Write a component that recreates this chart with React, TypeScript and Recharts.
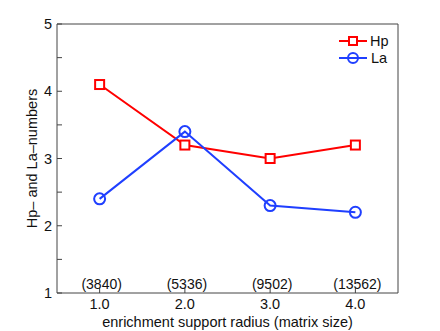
import React from 'react';
import { ComposedChart, Line, Scatter, XAxis, YAxis } from 'recharts';

const radius = [1.0, 2.0, 3.0, 4.0];
const hpValues = [4.1, 3.2, 3.0, 3.2];
const laValues = [2.4, 3.4, 2.3, 2.2];
const matrixSizes = ['(3840)', '(5336)', '(9502)', '(13562)'];
const sizeLabelLevel = 1.14;
const xTicks = [1, 2, 3, 4];
const yTicks = [1, 1.5, 2, 2.5, 3, 3.5, 4, 4.5, 5];

const data = radius.map((r, i) => ({ r, hp: hpValues[i], la: laValues[i] }));
const sizeData = radius.map((r, i) => ({ r, y: sizeLabelLevel, label: matrixSizes[i] }));

const FONT = '"Liberation Sans", Arial, Helvetica, sans-serif';
const AXIS = '#444';
const RED = '#ff0000';
const BLUE = '#1f3fff';

const SquareDot = (props: any) => {
  const { cx, cy } = props;
  if (cx == null || cy == null) return null;
  return <rect x={cx - 4.5} y={cy - 4.5} width={9} height={9} fill="#fff" stroke={RED} strokeWidth={2} />;
};

const CircleDot = (props: any) => {
  const { cx, cy } = props;
  if (cx == null || cy == null) return null;
  return <circle cx={cx} cy={cy} r={5.5} fill="none" stroke={BLUE} strokeWidth={2} />;
};

const SizeLabel = (props: any) => {
  const { cx, cy, payload } = props;
  return (
    <text x={cx + 2} y={cy + 5} textAnchor="middle" fontSize={14} fill="#111" fontFamily={FONT}>
      {payload.label}
    </text>
  );
};

const LegendBox = () => (
  <g fontFamily={FONT} fontSize={14.5} fill="#111">
    <line x1={339} x2={367} y1={41} y2={41} stroke={RED} strokeWidth={2} />
    <rect x={349} y={37} width={8} height={8} fill="#fff" stroke={RED} strokeWidth={2} />
    <text x={370} y={46}>Hp</text>
    <line x1={339} x2={367} y1={58} y2={58} stroke={BLUE} strokeWidth={2} />
    <circle cx={353} cy={58} r={5} fill="none" stroke={BLUE} strokeWidth={2} />
    <text x={371} y={63}>La</text>
  </g>
);

const App: React.FC = () => {
  return (
    <div style={{ position: 'absolute', left: 0, top: 0, width: 440, height: 331, background: '#fff' }}>
      <ComposedChart width={440} height={331} data={data} margin={{ top: 23, right: 41, left: 0, bottom: 0 }}>
        <XAxis
          xAxisId="b"
          dataKey="r"
          type="number"
          domain={[0.5, 4.5]}
          ticks={xTicks}
          tickFormatter={(v: number) => v.toFixed(1)}
          height={38}
          stroke={AXIS}
          tickSize={-5}
          tickMargin={11}
          tick={{ fill: '#111', fontSize: 14.5, fontFamily: FONT }}
          label={{ value: 'enrichment support radius (matrix size)', position: 'insideBottom', offset: 4, fill: '#111', fontSize: 14.5, fontFamily: FONT }}
        />
        <XAxis
          xAxisId="t"
          orientation="top"
          dataKey="r"
          type="number"
          domain={[0.5, 4.5]}
          ticks={xTicks}
          height={1}
          stroke={AXIS}
          tickSize={-5}
          tick={false}
        />
        <YAxis
          yAxisId="l"
          type="number"
          domain={[1, 5]}
          ticks={yTicks}
          interval={0}
          tickFormatter={(v: number) => (Number.isInteger(v) ? String(v) : '')}
          width={57}
          stroke={AXIS}
          tickSize={-5}
          tickMargin={10}
          tick={{ fill: '#111', fontSize: 14.5, fontFamily: FONT }}
          label={{ value: 'Hp\u2013 and La\u2013numbers', angle: -90, position: 'insideLeft', offset: 32, fill: '#111', fontSize: 14.5, fontFamily: FONT, style: { textAnchor: 'middle' } }}
        />
        <YAxis
          yAxisId="r"
          orientation="right"
          type="number"
          domain={[1, 5]}
          ticks={yTicks}
          interval={0}
          width={1}
          stroke={AXIS}
          tickSize={-5}
          tick={false}
        />
        <Line
          xAxisId="b"
          yAxisId="l"
          dataKey="hp"
          stroke={RED}
          strokeWidth={2}
          dot={<SquareDot />}
          activeDot={false}
          isAnimationActive={false}
        />
        <Line
          xAxisId="b"
          yAxisId="l"
          dataKey="la"
          stroke={BLUE}
          strokeWidth={2}
          dot={<CircleDot />}
          activeDot={false}
          isAnimationActive={false}
        />
        <Scatter
          xAxisId="b"
          yAxisId="l"
          data={sizeData}
          dataKey="y"
          shape={<SizeLabel />}
          isAnimationActive={false}
        />
        <LegendBox />
      </ComposedChart>
    </div>
  );
};

export default App;
